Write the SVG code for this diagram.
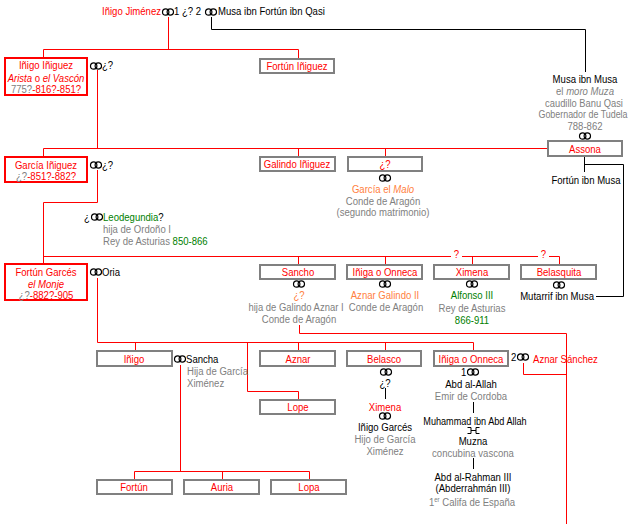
<svg xmlns="http://www.w3.org/2000/svg" width="628" height="524" viewBox="0 0 628 524">
<style>
text{font-family:"Liberation Sans",Arial,sans-serif;font-size:11px;fill:#000}
.c{text-anchor:middle}
.e{text-anchor:end}
.r{fill:#ff0000}
.g{fill:#808080}
.o{fill:#ff8040}
.v{fill:#008000}
.k{fill:#000}
.i{font-style:italic}
.n{font-style:normal}
.bx{fill:#fff;stroke:#808080;stroke-width:2}
.bxr{fill:#fff;stroke:#ff0000;stroke-width:2}
.lr{fill:none;stroke:#ff0000;stroke-width:1}
.lk{fill:none;stroke:#000;stroke-width:1}
.ring{fill:none;stroke:#000;stroke-width:1.2}
</style>
<defs>
<g id="m"><circle class="ring" cx="-2.3" cy="0" r="3.2"/><circle class="ring" cx="2.3" cy="0" r="3.2"/></g>
</defs>
<rect width="628" height="524" fill="#fff"/>

<g id="connectors">
<path class="lr" d="M168.5,17 V49.5 M43.5,57 V49.5 H298.5 V58"/>
<path class="lr" d="M97.5,70 V148.5 M43.5,156 V148.5 H547 M298.5,148.5 V156 M385.5,148.5 V156"/>
<path class="lr" d="M97.5,170 V202.5 H43.5 V263"/>
<path class="lr" d="M43.5,256.5 H559.5 V264 M298.5,256.5 V264 M385.5,256.5 V264 M472.5,256.5 V264"/>
<path class="lr" d="M97.5,278 V342.5 H473.5 V350 M135.5,342.5 V350 M298.5,342.5 V350 M385.5,342.5 V350 M247.5,342.5 V391.5 H298.5 V399"/>
<path class="lr" d="M180.5,365 V471.5 M134.5,479 V471.5 H309.5 V479 M222.5,471.5 V479"/>
<path class="lr" d="M299.5,325 V333.5 H566.5 V524 M523.5,363 V374.5 H566.5"/>
<path class="lk" d="M211.5,17 V29.5 H585.5 V72"/>
<path class="lk" d="M584.5,157 V172 M584.5,164.5 H623.5 V296.5 H596"/>
<path class="lk" d="M385.5,388 V399 M473.5,402 V413 M473.5,458 V469"/>
<rect x="451" y="250" width="11" height="11" fill="#fff"/>
<rect x="538" y="250" width="11" height="11" fill="#fff"/>
<text class="r c" transform="matrix(.87 0 0 1 456.5 0)" y="258">?</text>
<text class="r c" transform="matrix(.87 0 0 1 543.5 0)" y="258">?</text>
</g>

<g id="n-inigo-jimenez">
<text class="r e" transform="matrix(.87 0 0 1 161 0)" y="15">Iñigo Jiménez</text>
<use href="#m" x="168" y="12"/>
<text transform="matrix(.87 0 0 1 174 0)" y="15">1 ¿? 2</text>
<use href="#m" x="211" y="12"/>
<text transform="matrix(.87 0 0 1 218 0)" y="15">Musa ibn Fortún ibn Qasi</text>
</g>

<g id="n-inigo-iniguez">
<rect class="bxr" x="5" y="58" width="82" height="37"/>
<text class="r c" transform="matrix(.87 0 0 1 46 0)" y="69">Iñigo Iñiguez</text>
<text class="r c" transform="matrix(.87 0 0 1 46 0)" y="82"><tspan class="i">Arista</tspan> o <tspan class="i">el Vascón</tspan></text>
<text class="c" transform="matrix(.87 0 0 1 46 0)" y="93"><tspan class="g">775?</tspan><tspan class="r">-816?-851?</tspan></text>
<use href="#m" x="96" y="66"/>
<text transform="matrix(.87 0 0 1 102 0)" y="69">¿?</text>
</g>

<g id="n-fortun-iniguez">
<rect class="bx" x="260" y="59" width="74" height="14"/>
<text class="r c" transform="matrix(.87 0 0 1 297 0)" y="70">Fortún Iñiguez</text>
</g>

<g id="n-musa-ibn-musa">
<text class="c" transform="matrix(.87 0 0 1 585 0)" y="83">Musa ibn Musa</text>
<text class="c g" transform="matrix(.87 0 0 1 585 0)" y="95">el <tspan class="i">moro Muza</tspan></text>
<text class="c g" transform="matrix(.85 0 0 1 584 0)" y="107">caudillo Banu Qasi</text>
<text class="c g" transform="matrix(.81 0 0 1 583 0)" y="118">Gobernador de Tudela</text>
<text class="c g" transform="matrix(.87 0 0 1 585 0)" y="130">788-862</text>
<use href="#m" x="585" y="136"/>
</g>

<g id="n-assona">
<rect class="bx" x="548" y="141" width="74" height="15"/>
<text class="r c" transform="matrix(.87 0 0 1 585 0)" y="153">Assona</text>
<text class="c" transform="matrix(.87 0 0 1 586 0)" y="184">Fortún ibn Musa</text>
</g>

<g id="n-garcia-iniguez">
<rect class="bxr" x="5" y="157" width="82" height="25"/>
<text class="r c" transform="matrix(.87 0 0 1 46 0)" y="169">García Iñiguez</text>
<text class="c" transform="matrix(.87 0 0 1 46 0)" y="180"><tspan class="g">¿?</tspan><tspan class="r">-851?-882?</tspan></text>
<use href="#m" x="96" y="165"/>
<text transform="matrix(.87 0 0 1 102 0)" y="169">¿?</text>
</g>

<g id="n-galindo-iniguez">
<rect class="bx" x="260" y="157" width="75" height="14"/>
<text class="r c" transform="matrix(.87 0 0 1 297 0)" y="168">Galindo Iñiguez</text>
</g>

<g id="n-unknown-daughter">
<rect class="bx" x="348" y="157" width="74" height="14"/>
<text class="r c" transform="matrix(.87 0 0 1 385 0)" y="168">¿?</text>
<use href="#m" x="385" y="178"/>
<text class="o c" transform="matrix(.87 0 0 1 383 0)" y="193">García el <tspan class="i">Malo</tspan></text>
<text class="g c" transform="matrix(.87 0 0 1 383 0)" y="205">Conde de Aragón</text>
<text class="g c" transform="matrix(.87 0 0 1 383 0)" y="216">(segundo matrimonio)</text>
</g>

<g id="n-leodegundia">
<text transform="matrix(.87 0 0 1 84 0)" y="221">¿</text>
<use href="#m" x="97" y="217"/>
<text transform="matrix(.87 0 0 1 103 0)" y="221"><tspan class="v">Leodegundia</tspan>?</text>
<text class="g" transform="matrix(.87 0 0 1 103 0)" y="233">hija de Ordoño I</text>
<text class="g" transform="matrix(.87 0 0 1 103 0)" y="245">Rey de Asturias <tspan class="v">850-866</tspan></text>
</g>

<g id="n-fortun-garces">
<rect class="bxr" x="5" y="264" width="82" height="36"/>
<text class="r c" transform="matrix(.87 0 0 1 46 0)" y="276">Fortún Garcés</text>
<text class="r c i" transform="matrix(.87 0 0 1 46 0)" y="288">el Monje</text>
<text class="c" transform="matrix(.87 0 0 1 46 0)" y="299"><tspan class="g">¿?</tspan><tspan class="r">-882?-905</tspan></text>
<use href="#m" x="96" y="272"/>
<text transform="matrix(.87 0 0 1 102 0)" y="276">Oria</text>
</g>

<g id="n-sancho">
<rect class="bx" x="260" y="265" width="75" height="14"/>
<text class="r c" transform="matrix(.87 0 0 1 298 0)" y="276">Sancho</text>
<use href="#m" x="299" y="284"/>
<text class="o c" transform="matrix(.87 0 0 1 299 0)" y="299">¿?</text>
<text class="g c" transform="matrix(.86 0 0 1 296 0)" y="311">hija de Galindo Aznar I</text>
<text class="g c" transform="matrix(.87 0 0 1 299 0)" y="323">Conde de Aragón</text>
</g>

<g id="n-iniga-1">
<rect class="bx" x="347" y="265" width="75" height="14"/>
<text class="r c" transform="matrix(.87 0 0 1 385 0)" y="276">Iñiga o Onneca</text>
<use href="#m" x="385" y="284"/>
<text class="o c" transform="matrix(.87 0 0 1 385 0)" y="299">Aznar Galindo II</text>
<text class="g c" transform="matrix(.87 0 0 1 386 0)" y="311">Conde de Aragón</text>
</g>

<g id="n-ximena-1">
<rect class="bx" x="434" y="265" width="75" height="14"/>
<text class="r c" transform="matrix(.87 0 0 1 472 0)" y="276">Ximena</text>
<use href="#m" x="472" y="284"/>
<text class="v c" transform="matrix(.87 0 0 1 472 0)" y="299">Alfonso III</text>
<text class="g c" transform="matrix(.87 0 0 1 472 0)" y="312">Rey de Asturias</text>
<text class="v c" transform="matrix(.87 0 0 1 472 0)" y="324">866-911</text>
</g>

<g id="n-belasquita">
<rect class="bx" x="521" y="265" width="75" height="14"/>
<text class="r c" transform="matrix(.87 0 0 1 559 0)" y="276">Belasquita</text>
<use href="#m" x="559" y="285"/>
<text class="e" transform="matrix(.87 0 0 1 594 0)" y="300">Mutarrif ibn Musa</text>
</g>

<g id="n-inigo">
<rect class="bx" x="97" y="351" width="75" height="15"/>
<text class="r c" transform="matrix(.87 0 0 1 134 0)" y="363">Iñigo</text>
<use href="#m" x="180" y="359"/>
<text transform="matrix(.87 0 0 1 186 0)" y="363">Sancha</text>
<text class="g" transform="matrix(.87 0 0 1 187 0)" y="375">Hija de García</text>
<text class="g" transform="matrix(.87 0 0 1 187 0)" y="387">Ximénez</text>
</g>

<g id="n-aznar">
<rect class="bx" x="260" y="351" width="75" height="15"/>
<text class="r c" transform="matrix(.87 0 0 1 298 0)" y="363">Aznar</text>
</g>

<g id="n-lope">
<rect class="bx" x="260" y="400" width="75" height="14"/>
<text class="r c" transform="matrix(.87 0 0 1 298 0)" y="411">Lope</text>
</g>

<g id="n-belasco">
<rect class="bx" x="347" y="351" width="74" height="15"/>
<text class="r c" transform="matrix(.87 0 0 1 384 0)" y="363">Belasco</text>
<use href="#m" x="386" y="372"/>
<text class="c" transform="matrix(.87 0 0 1 385 0)" y="387">¿?</text>
<text class="r c" transform="matrix(.87 0 0 1 385 0)" y="411">Ximena</text>
<use href="#m" x="385" y="416"/>
<text class="c" transform="matrix(.87 0 0 1 385 0)" y="431">Iñigo Garcés</text>
<text class="g c" transform="matrix(.87 0 0 1 385 0)" y="443">Hijo de García</text>
<text class="g c" transform="matrix(.87 0 0 1 385 0)" y="455">Ximénez</text>
</g>

<g id="n-iniga-2">
<rect class="bx" x="434" y="351" width="74" height="15"/>
<text class="r c" transform="matrix(.87 0 0 1 471 0)" y="363">Iñiga o Onneca</text>
<text transform="matrix(.87 0 0 1 461 0)" y="376">1</text>
<use href="#m" x="473" y="372"/>
<text class="c" transform="matrix(.87 0 0 1 471 0)" y="388">Abd al-Allah</text>
<text class="g c" transform="matrix(.87 0 0 1 471 0)" y="400">Emir de Cordoba</text>
<text class="c" transform="matrix(.83 0 0 1 475 0)" y="425">Muhammad ibn Abd Allah</text>
<path class="lk" d="M467.5,427.5 h3.5 v6 h-3.5 M479.5,427.5 h-3.5 v6 h3.5 M471,430.5 h5"/>
<text class="c" transform="matrix(.87 0 0 1 473 0)" y="445">Muzna</text>
<text class="g c" transform="matrix(.87 0 0 1 473 0)" y="457">concubina vascona</text>
<text class="c" transform="matrix(.87 0 0 1 473 0)" y="481">Abd al-Rahman III</text>
<text class="c" transform="matrix(.87 0 0 1 473 0)" y="492">(Abderrahmán III)</text>
<text class="g c" transform="matrix(.87 0 0 1 472 0)" y="506">1<tspan font-size="7" dy="-4">er</tspan><tspan dy="4"> Califa de España</tspan></text>
<text transform="matrix(.87 0 0 1 511 0)" y="361">2</text>
<use href="#m" x="523" y="357"/>
<text class="r" transform="matrix(.87 0 0 1 533 0)" y="363">Aznar Sánchez</text>
</g>

<g id="n-fortun">
<rect class="bx" x="97" y="480" width="75" height="14"/>
<text class="r c" transform="matrix(.87 0 0 1 134 0)" y="491">Fortún</text>
</g>
<g id="n-auria">
<rect class="bx" x="184" y="480" width="75" height="14"/>
<text class="r c" transform="matrix(.87 0 0 1 222 0)" y="491">Auria</text>
</g>
<g id="n-lopa">
<rect class="bx" x="271" y="480" width="75" height="14"/>
<text class="r c" transform="matrix(.87 0 0 1 309 0)" y="491">Lopa</text>
</g>
</svg>
